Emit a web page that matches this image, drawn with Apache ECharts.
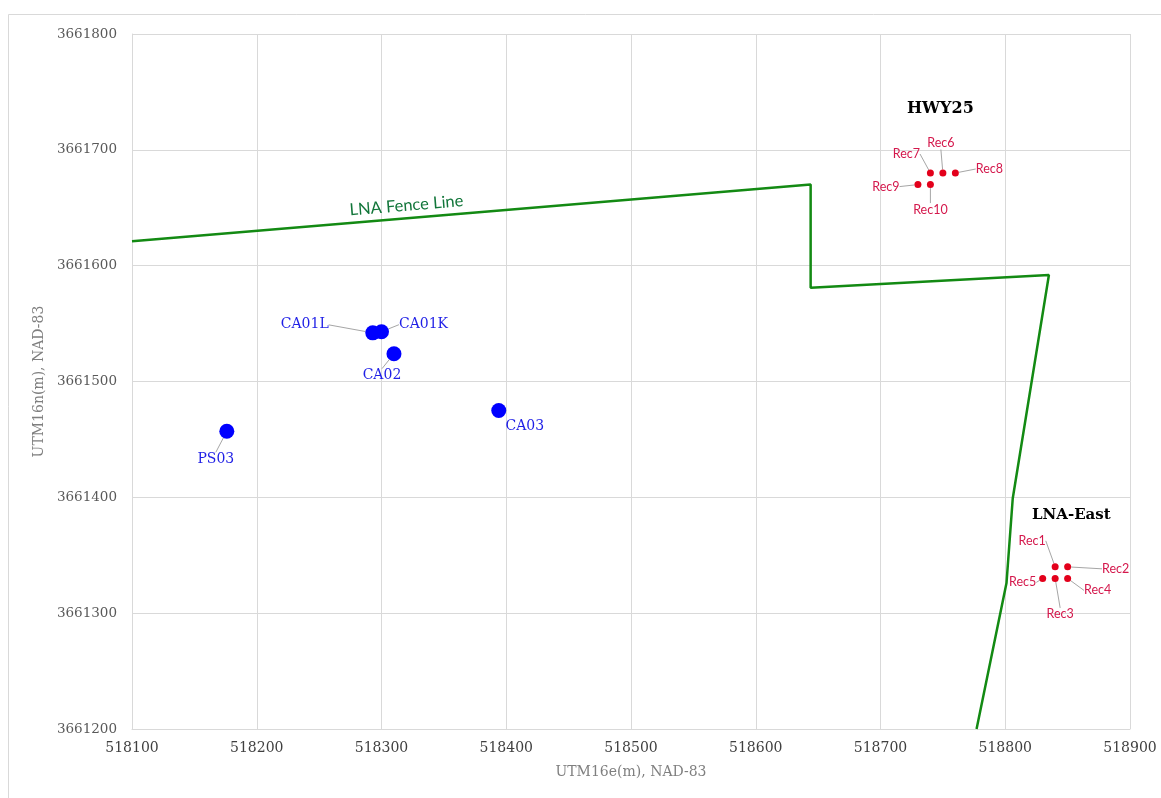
<!DOCTYPE html>
<html>
<head>
<meta charset="utf-8">
<title>Sources, receptors and LNA fence line</title>
<script src="https://cdn.jsdelivr.net/npm/echarts@6/dist/echarts.min.js"></script>
<style>
  html, body { margin: 0; padding: 0; background: #fff; }
  #chart { width: 1161px; height: 798px; }
</style>
</head>
<body>
<div id="chart"></div>
<script>
// Axis ticks (UTM zone 16, NAD-83, metres)
const eastTicks = [518100, 518200, 518300, 518400, 518500, 518600, 518700, 518800, 518900];
const northTicks = [3661200, 3661300, 3661400, 3661500, 3661600, 3661700, 3661800];

// Emission sources
const sourceNames = ['PS03', 'CA01L', 'CA01K', 'CA02', 'CA03'];
const sourceEast = [518176, 518293, 518300, 518310, 518394];
const sourceNorth = [3661457, 3661542, 3661543, 3661524, 3661475];

// Receptors (LNA-East group Rec1-5, HWY25 group Rec6-10)
const receptorNames = ['Rec1', 'Rec2', 'Rec3', 'Rec4', 'Rec5', 'Rec6', 'Rec7', 'Rec8', 'Rec9', 'Rec10'];
const receptorEast = [518840, 518850, 518840, 518850, 518830, 518750, 518740, 518760, 518730, 518740];
const receptorNorth = [3661340, 3661340, 3661330, 3661330, 3661330, 3661680, 3661680, 3661680, 3661670, 3661670];

// LNA fence line vertices
const fenceEast = [518100, 518644, 518644, 518835, 518806, 518801, 518777];
const fenceNorth = [3661621, 3661670, 3661581, 3661592, 3661399, 3661326, 3661200];

// Label placement (pixel offsets from each marker)
const labelOffset = {
  PS03: [-11, 28], CA01L: [-68, -8], CA01K: [42, -7], CA02: [-12, 22], CA03: [26, 16],
  Rec1: [-23, -26], Rec2: [48, 2], Rec3: [5, 36], Rec4: [30, 12], Rec5: [-20, 4],
  Rec6: [-2, -30], Rec7: [-24, -19], Rec8: [34, -4], Rec9: [-32, 2], Rec10: [0, 25]
};
const noLeader = ['CA03'];

const zip = (names, xs, ys) => names.map((n, i) => ({
  name: n,
  value: [xs[i], ys[i]],
  labelLine: { show: noLeader.indexOf(n) < 0 }
}));

const chart = echarts.init(document.getElementById('chart'), null, { renderer: 'canvas' });

const serif = 'DejaVu Serif';
const gridColor = '#d9d9d9';
const plainText = { textBorderWidth: 0, textShadowBlur: 0 };

const option = {
  animation: false,
  backgroundColor: '#ffffff',
  graphic: [{
    type: 'rect',
    shape: { x: 8.5, y: 14.5, width: 1200, height: 900 },
    style: { fill: 'none', stroke: gridColor, lineWidth: 1 },
    silent: true,
    z: -10
  }],
  grid: { left: 132, top: 34, width: 998, height: 695, containLabel: false },
  xAxis: {
    type: 'value',
    min: eastTicks[0],
    max: eastTicks[eastTicks.length - 1],
    interval: eastTicks[1] - eastTicks[0],
    name: 'UTM16e(m), NAD-83',
    nameLocation: 'middle',
    nameGap: 36,
    nameTextStyle: { fontFamily: serif, fontSize: 14, color: '#7f7f7f' },
    axisLine: { show: true, lineStyle: { color: gridColor, width: 1 } },
    axisTick: { show: false },
    axisLabel: { margin: 12, fontFamily: serif, fontSize: 14, color: '#404040', formatter: v => String(v) },
    splitLine: { show: true, lineStyle: { color: gridColor, width: 1 } }
  },
  yAxis: {
    type: 'value',
    min: northTicks[0],
    max: northTicks[northTicks.length - 1],
    interval: northTicks[1] - northTicks[0],
    name: 'UTM16n(m), NAD-83',
    nameLocation: 'middle',
    nameRotate: 90,
    nameGap: 82,
    nameTextStyle: { fontFamily: serif, fontSize: 14, color: '#7f7f7f' },
    axisLine: { show: true, lineStyle: { color: gridColor, width: 1 } },
    axisTick: { show: false },
    axisLabel: { margin: 15, fontFamily: serif, fontSize: 13.5, color: '#595959', formatter: v => String(v) },
    splitLine: { show: true, lineStyle: { color: gridColor, width: 1 } }
  },
  series: [
    {
      name: 'LNA Fence Line',
      type: 'line',
      data: fenceEast.map((x, i) => [x, fenceNorth[i]]),
      showSymbol: false,
      symbol: 'none',
      lineStyle: { color: '#138a13', width: 2.5 },
      silent: true,
      z: 2
    },
    {
      name: 'Sources',
      type: 'scatter',
      data: zip(sourceNames, sourceEast, sourceNorth),
      symbol: 'circle',
      symbolSize: 15,
      itemStyle: { color: '#0000ff', opacity: 1 },
      label: Object.assign({
        show: true,
        position: 'inside',
        formatter: '{b}',
        fontFamily: serif,
        fontSize: 14,
        color: '#1f1fe6'
      }, plainText),
      labelLine: { show: true, length2: 0, lineStyle: { color: '#a6a6a6', width: 1 } },
      labelLayout: p => {
        const o = labelOffset[sourceNames[p.dataIndex]];
        return { dx: o[0], dy: o[1] };
      },
      z: 3
    },
    {
      name: 'Receptors',
      type: 'scatter',
      data: zip(receptorNames, receptorEast, receptorNorth),
      symbol: 'circle',
      symbolSize: 7,
      itemStyle: { color: '#e3001b', opacity: 1 },
      label: Object.assign({
        show: true,
        position: 'inside',
        formatter: '{b}',
        fontFamily: 'Lato',
        fontSize: 12.5,
        color: '#d4184c'
      }, plainText),
      labelLine: { show: true, length2: 0, lineStyle: { color: '#a6a6a6', width: 1 } },
      labelLayout: p => {
        const o = labelOffset[receptorNames[p.dataIndex]];
        return { dx: o[0], dy: o[1] };
      },
      z: 3
    },
    {
      name: 'Annotations',
      type: 'scatter',
      silent: true,
      symbol: 'circle',
      symbolSize: 1,
      itemStyle: { color: 'rgba(0,0,0,0)', opacity: 1 },
      data: [
        {
          value: [518320, 3661652],
          label: Object.assign({ show: true, position: 'inside', formatter: 'LNA Fence Line', rotate: 4.6,
                   fontFamily: 'Lato', fontSize: 16.5, color: '#12763a' }, plainText)
        },
        {
          value: [518748, 3661735],
          label: Object.assign({ show: true, position: 'inside', formatter: 'HWY25',
                   fontFamily: serif, fontWeight: 'bold', fontSize: 16, color: '#000000' }, plainText)
        },
        {
          value: [518853, 3661385],
          label: Object.assign({ show: true, position: 'inside', formatter: 'LNA-East',
                   fontFamily: serif, fontWeight: 'bold', fontSize: 15, color: '#000000' }, plainText)
        }
      ],
      z: 4
    }
  ]
};

chart.setOption(option);
</script>
</body>
</html>
